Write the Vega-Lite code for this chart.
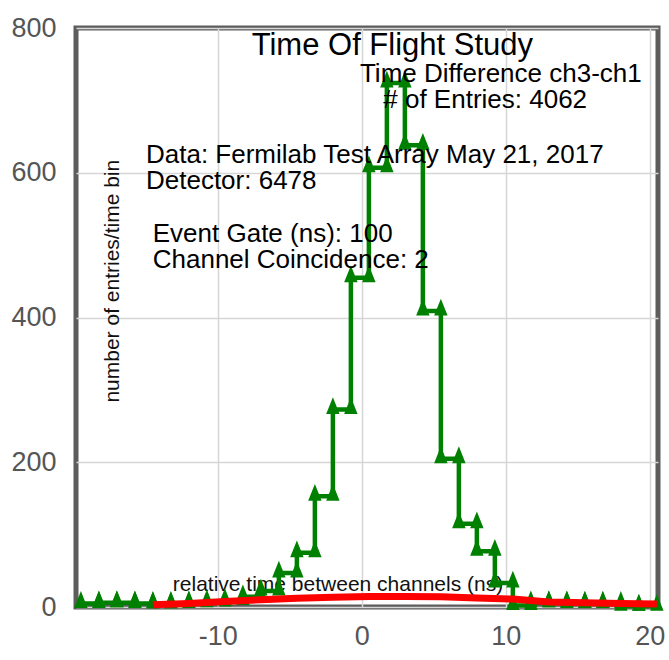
{
  "$schema": "https://vega.github.io/schema/vega-lite/v6.json",
  "width": 582,
  "height": 579,
  "autosize": "none",
  "padding": {"left": 76, "top": 28, "right": 11, "bottom": 53},
  "background": "white",
  "config": {
    "view": {"stroke": "#5c5c5c", "strokeWidth": 5},
    "font": "Liberation Sans",
    "axis": {
      "domain": false,
      "ticks": false,
      "grid": true,
      "gridColor": "#d6d6d6",
      "gridWidth": 1.5,
      "labelFont": "Liberation Sans",
      "labelFontSize": 27,
      "labelColor": "#555555",
      "titleFont": "Liberation Sans",
      "titleFontSize": 21,
      "titleFontWeight": "normal",
      "titleColor": "#111111"
    }
  },
  "datasets": {
    "hist": [
      {"i": 0, "t": -19.5, "n": 5}, {"i": 1, "t": -18.25, "n": 5},
      {"i": 2, "t": -18.25, "n": 6}, {"i": 3, "t": -17, "n": 6},
      {"i": 4, "t": -17, "n": 6}, {"i": 5, "t": -15.75, "n": 6},
      {"i": 6, "t": -15.75, "n": 5}, {"i": 7, "t": -14.5, "n": 5},
      {"i": 8, "t": -14.5, "n": 4}, {"i": 9, "t": -13.25, "n": 4},
      {"i": 10, "t": -13.25, "n": 5}, {"i": 11, "t": -12, "n": 5},
      {"i": 12, "t": -12, "n": 6}, {"i": 13, "t": -10.75, "n": 6},
      {"i": 14, "t": -10.75, "n": 7}, {"i": 15, "t": -9.5, "n": 7},
      {"i": 16, "t": -9.5, "n": 9}, {"i": 17, "t": -8.25, "n": 9},
      {"i": 18, "t": -8.25, "n": 14}, {"i": 19, "t": -7, "n": 14},
      {"i": 20, "t": -7, "n": 22}, {"i": 21, "t": -5.75, "n": 22},
      {"i": 22, "t": -5.75, "n": 47}, {"i": 23, "t": -4.5, "n": 47},
      {"i": 24, "t": -4.5, "n": 75}, {"i": 25, "t": -3.25, "n": 75},
      {"i": 26, "t": -3.25, "n": 153}, {"i": 27, "t": -2, "n": 153},
      {"i": 28, "t": -2, "n": 273}, {"i": 29, "t": -0.75, "n": 273},
      {"i": 30, "t": -0.75, "n": 455}, {"i": 31, "t": 0.5, "n": 455},
      {"i": 32, "t": 0.5, "n": 607}, {"i": 33, "t": 1.75, "n": 607},
      {"i": 34, "t": 1.75, "n": 724}, {"i": 35, "t": 3, "n": 724},
      {"i": 36, "t": 3, "n": 638}, {"i": 37, "t": 4.25, "n": 638},
      {"i": 38, "t": 4.25, "n": 409}, {"i": 39, "t": 5.5, "n": 409},
      {"i": 40, "t": 5.5, "n": 205}, {"i": 41, "t": 6.75, "n": 205},
      {"i": 42, "t": 6.75, "n": 115}, {"i": 43, "t": 8, "n": 115},
      {"i": 44, "t": 8, "n": 77}, {"i": 45, "t": 9.25, "n": 77},
      {"i": 46, "t": 9.25, "n": 33}, {"i": 47, "t": 10.5, "n": 33},
      {"i": 48, "t": 10.5, "n": 2}, {"i": 49, "t": 11.75, "n": 2},
      {"i": 50, "t": 11.75, "n": 6}, {"i": 51, "t": 13, "n": 6},
      {"i": 52, "t": 13, "n": 6}, {"i": 53, "t": 14.25, "n": 6},
      {"i": 54, "t": 14.25, "n": 5}, {"i": 55, "t": 15.5, "n": 5},
      {"i": 56, "t": 15.5, "n": 5}, {"i": 57, "t": 16.75, "n": 5},
      {"i": 58, "t": 16.75, "n": 5}, {"i": 59, "t": 18, "n": 5},
      {"i": 60, "t": 18, "n": 1}, {"i": 61, "t": 19.25, "n": 1},
      {"i": 62, "t": 19.25, "n": 1}, {"i": 63, "t": 20.5, "n": 1}
    ],
    "fit": [
      {"t": -14.5, "n": 3}, {"t": -12, "n": 5}, {"t": -9.5, "n": 7.5},
      {"t": -7, "n": 10}, {"t": -4.5, "n": 12}, {"t": -2, "n": 13.5},
      {"t": 0.5, "n": 14.5}, {"t": 3, "n": 14.5}, {"t": 5.5, "n": 14},
      {"t": 8, "n": 12.5}, {"t": 10.5, "n": 11}, {"t": 13, "n": 7},
      {"t": 15.5, "n": 6}, {"t": 18, "n": 5}, {"t": 20.5, "n": 4}
    ],
    "notes": [
      {"label": "Time Of Flight Study", "role": "title", "t": -7.64, "n": 762.7},
      {"label": "Time Difference ch3-ch1", "role": "info", "t": -0.12, "n": 725.8},
      {"label": "# of Entries: 4062", "role": "info", "t": 1.5, "n": 689.1},
      {"label": "Data: Fermilab Test Array May 21, 2017", "role": "info", "t": -14.98, "n": 613.5},
      {"label": "Detector: 6478", "role": "info", "t": -14.98, "n": 577.5},
      {"label": "Event Gate (ns): 100", "role": "info", "t": -14.51, "n": 504.7},
      {"label": "Channel Coincidence: 2", "role": "info", "t": -14.51, "n": 468.0}
    ]
  },
  "encoding": {
    "x": {
      "field": "t",
      "type": "quantitative",
      "scale": {"domain": [-19.84, 20.58], "nice": false, "zero": false},
      "axis": {
        "values": [-10, 0, 10, 20],
        "labelPadding": 16,
        "labelExpr": "datum.value < 0 ? '-' + abs(datum.value) : datum.label",
        "title": "relative time between channels (ns)",
        "titleX": 261.5,
        "titleY": -17,
        "titleAlign": "center",
        "titleBaseline": "alphabetic"
      }
    },
    "y": {
      "field": "n",
      "type": "quantitative",
      "scale": {"domain": [0, 800], "nice": false},
      "axis": {
        "values": [0, 200, 400, 600, 800],
        "labelPadding": 20,
        "title": "number of entries/time bin",
        "titleX": 36,
        "titleY": 252.7,
        "titleAngle": -90,
        "titleAlign": "center",
        "titleBaseline": "middle"
      }
    }
  },
  "layer": [
    {
      "data": {"name": "hist"},
      "mark": {"type": "line", "color": "#008000", "strokeWidth": 4.5, "strokeJoin": "miter"},
      "encoding": {"order": {"field": "i", "type": "quantitative"}}
    },
    {
      "data": {"name": "hist"},
      "mark": {"type": "point", "filled": true, "color": "#008000", "opacity": 1, "size": 180, "shape": "M-1,0.67L1,0.67L0,-1.83Z"}
    },
    {
      "data": {"name": "fit"},
      "mark": {"type": "line", "color": "#ff0000", "strokeWidth": 7, "strokeCap": "butt"}
    },
    {
      "data": {"name": "notes"},
      "transform": [{"filter": "datum.role === 'title'"}],
      "mark": {"type": "text", "fontSize": 31, "align": "left", "baseline": "alphabetic", "color": "#000000", "font": "Liberation Sans"},
      "encoding": {"text": {"field": "label"}}
    },
    {
      "data": {"name": "notes"},
      "transform": [{"filter": "datum.role === 'info'"}],
      "mark": {"type": "text", "fontSize": 26, "align": "left", "baseline": "alphabetic", "color": "#000000", "font": "Liberation Sans"},
      "encoding": {"text": {"field": "label"}}
    }
  ]
}
